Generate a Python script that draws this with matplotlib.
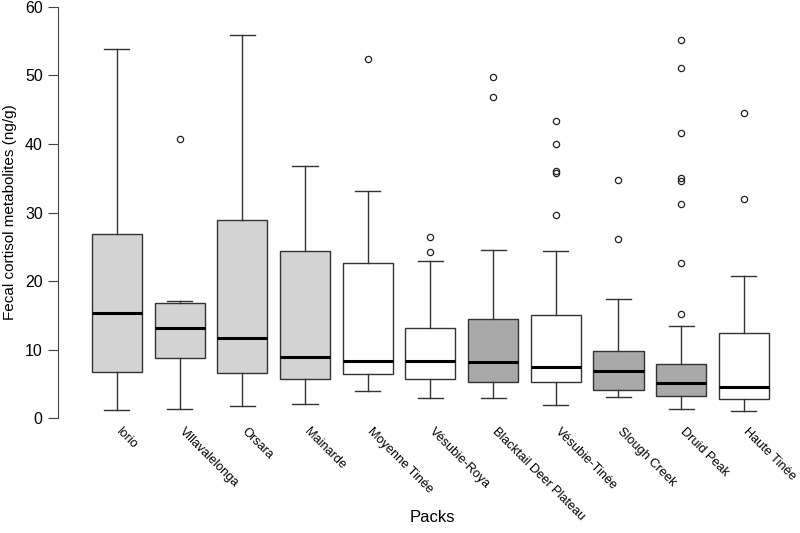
import matplotlib
matplotlib.use("Agg")
import matplotlib.pyplot as plt

plt.rcParams['font.family'] = ['Liberation Sans', 'DejaVu Sans']

packs = ["Iorio", "Villavalelonga", "Orsara", "Mainarde", "Moyenne Tinée",
         "Vésubie-Roya", "Blacktail Deer Plateau", "Vésubie-Tinée",
         "Slough Creek", "Druid Peak", "Haute Tinée"]

# five-number summaries (ng/g)
whislo = [1.2, 1.4, 1.8, 2.1, 4.0, 2.9, 2.9, 1.9, 3.1, 1.4, 1.1]
q1 = [6.7, 8.8, 6.6, 5.8, 6.5, 5.8, 5.25, 5.25, 4.1, 3.3, 2.8]
med = [15.3, 13.1, 11.7, 9.0, 8.35, 8.35, 8.2, 7.5, 6.85, 5.1, 4.6]
q3 = [26.8, 16.8, 28.9, 24.4, 22.7, 13.1, 14.5, 15.0, 9.8, 7.9, 12.4]
whishi = [53.8, 17.1, 55.9, 36.8, 33.2, 22.9, 24.6, 24.4, 17.4, 13.4, 20.7]
outliers = [
    [],
    [40.7],
    [],
    [],
    [52.4],
    [26.4, 24.2],
    [49.75, 46.9],
    [43.4, 40.0, 36.1, 35.8, 29.7],
    [34.8, 26.2],
    [55.2, 51.1, 41.6, 35.1, 34.6, 31.3, 22.7, 15.2],
    [44.5, 31.9],
]
fills = ["#d3d3d3", "#d3d3d3", "#d3d3d3", "#d3d3d3", "white", "white",
         "#a9a9a9", "white", "#a9a9a9", "#a9a9a9", "white"]

stats = []
for i, name in enumerate(packs):
    stats.append(dict(label=name, whislo=whislo[i], q1=q1[i], med=med[i],
                      q3=q3[i], whishi=whishi[i], fliers=outliers[i]))

fig = plt.figure(figsize=(8, 5.33), dpi=100)
ax = fig.add_axes([0.0725, 0.1843, 0.931, 0.834])

edge = "#333333"
bp = ax.bxp(stats, positions=range(1, len(packs) + 1), widths=0.8,
            patch_artist=True, showfliers=True,
            boxprops=dict(edgecolor=edge, linewidth=1.0),
            whiskerprops=dict(color=edge, linewidth=1.0, linestyle="-"),
            capprops=dict(color=edge, linewidth=1.0),
            medianprops=dict(color="black", linewidth=2.2),
            flierprops=dict(marker="o", markerfacecolor="none",
                            markeredgecolor="#222222", markersize=4.5,
                            markeredgewidth=0.9))
for patch, c in zip(bp["boxes"], fills):
    patch.set_facecolor(c)
# R-style staples: half the box width
for cap in bp["caps"]:
    x0, x1 = cap.get_xdata()
    xc = (x0 + x1) / 2
    cap.set_xdata([xc - 0.2, xc + 0.2])

ax.set_xlim(0.06, 11.94)
ax.set_ylim(-2.4, 62.4)
for s in ["top", "right", "bottom"]:
    ax.spines[s].set_visible(False)
ax.spines["left"].set_bounds(0, 60)
ax.spines["left"].set_color("#444444")
ax.set_yticks(range(0, 61, 10))
ax.tick_params(axis="y", length=7, color="#444444", labelsize=11.5, pad=4)
ax.set_xticks([])

for i, name in enumerate(packs):
    ax.text(i + 1.02, -1.7, name, rotation=-45, rotation_mode="anchor",
            ha="left", va="center", fontsize=9.2, transform=ax.transData)

ax.set_ylabel("Fecal cortisol metabolites (ng/g)", fontsize=11)
ax.yaxis.set_label_coords(-0.055, 0.5)
fig.text(0.54, 0.015, "Packs", ha="center", va="bottom", fontsize=12)

fig.savefig("out.png", dpi=100)
